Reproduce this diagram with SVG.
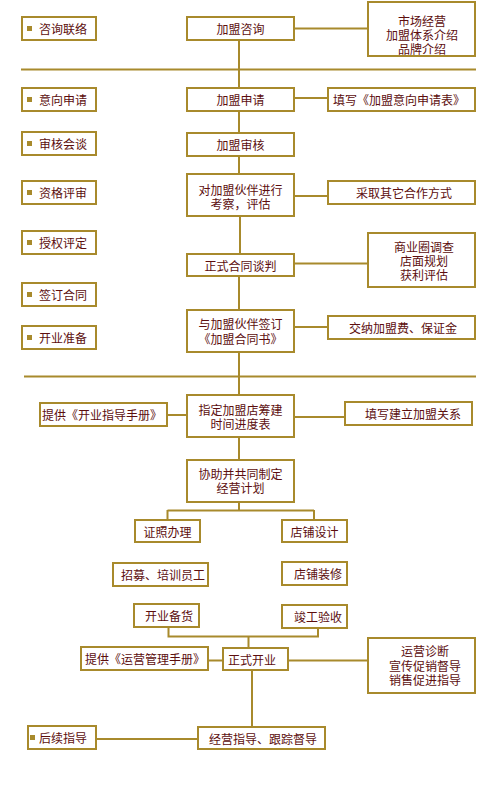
<svg xmlns="http://www.w3.org/2000/svg" width="490" height="795" viewBox="0 0 490 795">
<style>
.b{fill:#fff;stroke:#a88a2c;stroke-width:2}
.t{font-family:"Noto Sans CJK SC","Noto Sans",sans-serif;font-size:12px;fill:#5c0e0e;text-anchor:middle;dominant-baseline:central}
.s{text-anchor:start}
.c{stroke:#a88a2c;stroke-width:2;fill:none}
.d{fill:#a88a2c}
</style>
<rect width="490" height="795" fill="#fff"/>
<g id="connectors">
<path class="c" d="M21 69.5H476M24 376.5H476"/>
<path class="c" d="M239 41V87M239 111V132M239 157V173M240 217V253M239 276V309M239 352V394M239 437V459M239 502V510.5M167.5 510.5H314M167.5 510V519M314 510V519"/>
<path class="c" d="M168.5 627V636.5H318V629M248.5 636.5V647M252 671V726"/>
<path class="c" d="M295 28.5H367M295 98H327M295 196H327M295 263.5H367M295 327H327M167 415H186M295 417H344M209 660.5H222M288 660.5H367M97 739H197"/>
</g>
<g id="L1"><rect class="b" x="22" y="17" width="74" height="23"/><rect class="d" x="27" y="26" width="5" height="5"/><text class="t s" x="39" y="28.5">咨询联络</text></g>
<g id="L2"><rect class="b" x="22" y="88" width="74" height="23"/><rect class="d" x="27" y="97" width="5" height="5"/><text class="t s" x="39" y="99.5">意向申请</text></g>
<g id="L3"><rect class="b" x="22" y="132" width="74" height="23"/><rect class="d" x="27" y="141" width="5" height="5"/><text class="t s" x="39" y="143.5">审核会谈</text></g>
<g id="L4"><rect class="b" x="22" y="181" width="74" height="23"/><rect class="d" x="27" y="190" width="5" height="5"/><text class="t s" x="39" y="192.5">资格评审</text></g>
<g id="L5"><rect class="b" x="22" y="231" width="74" height="23"/><rect class="d" x="27" y="240" width="5" height="5"/><text class="t s" x="39" y="242.5">授权评定</text></g>
<g id="L6"><rect class="b" x="22" y="283" width="74" height="23"/><rect class="d" x="27" y="292" width="5" height="5"/><text class="t s" x="39" y="294.5">签订合同</text></g>
<g id="L7"><rect class="b" x="22" y="326" width="74" height="23"/><rect class="d" x="27" y="335" width="5" height="5"/><text class="t s" x="39" y="337.5">开业准备</text></g>
<g id="L8"><rect class="b" x="28" y="726" width="68" height="23"/><rect class="d" x="30" y="735" width="5" height="5"/><text class="t s" x="39" y="737.5">后续指导</text></g>
<g id="C1"><rect class="b" x="187" y="17" width="107" height="23"/><text class="t" x="240.5" y="28.5">加盟咨询</text></g>
<g id="C2"><rect class="b" x="187" y="88" width="107" height="23"/><text class="t" x="240.5" y="99.5">加盟申请</text></g>
<g id="C3"><rect class="b" x="187" y="133" width="107" height="23"/><text class="t" x="240.5" y="144.5">加盟审核</text></g>
<g id="C4"><rect class="b" x="187" y="174" width="107" height="42"/><text class="t" x="240.5" y="189">对加盟伙伴进行<tspan x="240.5" dy="14">考察，评估</tspan></text></g>
<g id="C5"><rect class="b" x="187" y="254" width="107" height="22"/><text class="t" x="240.5" y="265">正式合同谈判</text></g>
<g id="C6"><rect class="b" x="187" y="310" width="107" height="42"/><text class="t" x="240.5" y="323.5">与加盟伙伴签订<tspan x="240.5" dy="14">《加盟合同书》</tspan></text></g>
<g id="C7"><rect class="b" x="187" y="395" width="107" height="42"/><text class="t" x="240.5" y="409">指定加盟店筹建<tspan x="240.5" dy="14">时间进度表</tspan></text></g>
<g id="C8"><rect class="b" x="187" y="460" width="107" height="42"/><text class="t" x="240.5" y="473">协助并共同制定<tspan x="240.5" dy="14">经营计划</tspan></text></g>
<g id="C9"><rect class="b" x="135" y="520" width="65" height="22"/><text class="t" x="167.5" y="531">证照办理</text></g>
<g id="C10"><rect class="b" x="282" y="520" width="65" height="22"/><text class="t" x="314.5" y="531">店铺设计</text></g>
<g id="C11"><rect class="b" x="113" y="563" width="95" height="23"/><text class="t" x="163" y="574.5">招募、培训员工</text></g>
<g id="C12"><rect class="b" x="282" y="562" width="65" height="23"/><text class="t" x="318" y="573.5">店铺装修</text></g>
<g id="C13"><rect class="b" x="134" y="604" width="65" height="23"/><text class="t" x="169" y="615.5">开业备货</text></g>
<g id="C14"><rect class="b" x="282" y="605" width="65" height="23"/><text class="t" x="318" y="616.5">竣工验收</text></g>
<g id="C15"><rect class="b" x="223" y="648" width="65" height="22"/><text class="t" x="252" y="659.5">正式开业</text></g>
<g id="C16"><rect class="b" x="198" y="727" width="127" height="22"/><text class="t" x="263" y="738">经营指导、跟踪督导</text></g>
<g id="R1"><rect class="b" x="368" y="2" width="107" height="54"/><text class="t" x="422" y="20">市场经营<tspan x="422" dy="14">加盟体系介绍</tspan><tspan x="422" dy="14">品牌介绍</tspan></text></g>
<g id="R2"><rect class="b" x="328" y="88" width="147" height="23"/><text class="t" x="399" y="99.5">填写《加盟意向申请表》</text></g>
<g id="R3"><rect class="b" x="328" y="181" width="147" height="23"/><text class="t" x="404" y="192.5">采取其它合作方式</text></g>
<g id="R4"><rect class="b" x="368" y="233" width="107" height="54"/><text class="t" x="424" y="246">商业圈调查<tspan x="424" dy="14">店面规划</tspan><tspan x="424" dy="14">获利评估</tspan></text></g>
<g id="R5"><rect class="b" x="328" y="316" width="147" height="23"/><text class="t" x="403" y="327.5">交纳加盟费、保证金</text></g>
<g id="R6"><rect class="b" x="345" y="402" width="127" height="23"/><text class="t" x="413" y="413.5">填写建立加盟关系</text></g>
<g id="R7"><rect class="b" x="40" y="403" width="127" height="23"/><text class="t" x="102" y="414.5">提供《开业指导手册》</text></g>
<g id="R8"><rect class="b" x="81" y="647" width="127" height="23"/><text class="t" x="145" y="658.5">提供《运营管理手册》</text></g>
<g id="R9"><rect class="b" x="368" y="638" width="107" height="55"/><text class="t" x="425" y="650">运营诊断<tspan x="425" dy="14.5">宣传促销督导</tspan><tspan x="425" dy="14.5">销售促进指导</tspan></text></g>
</svg>
